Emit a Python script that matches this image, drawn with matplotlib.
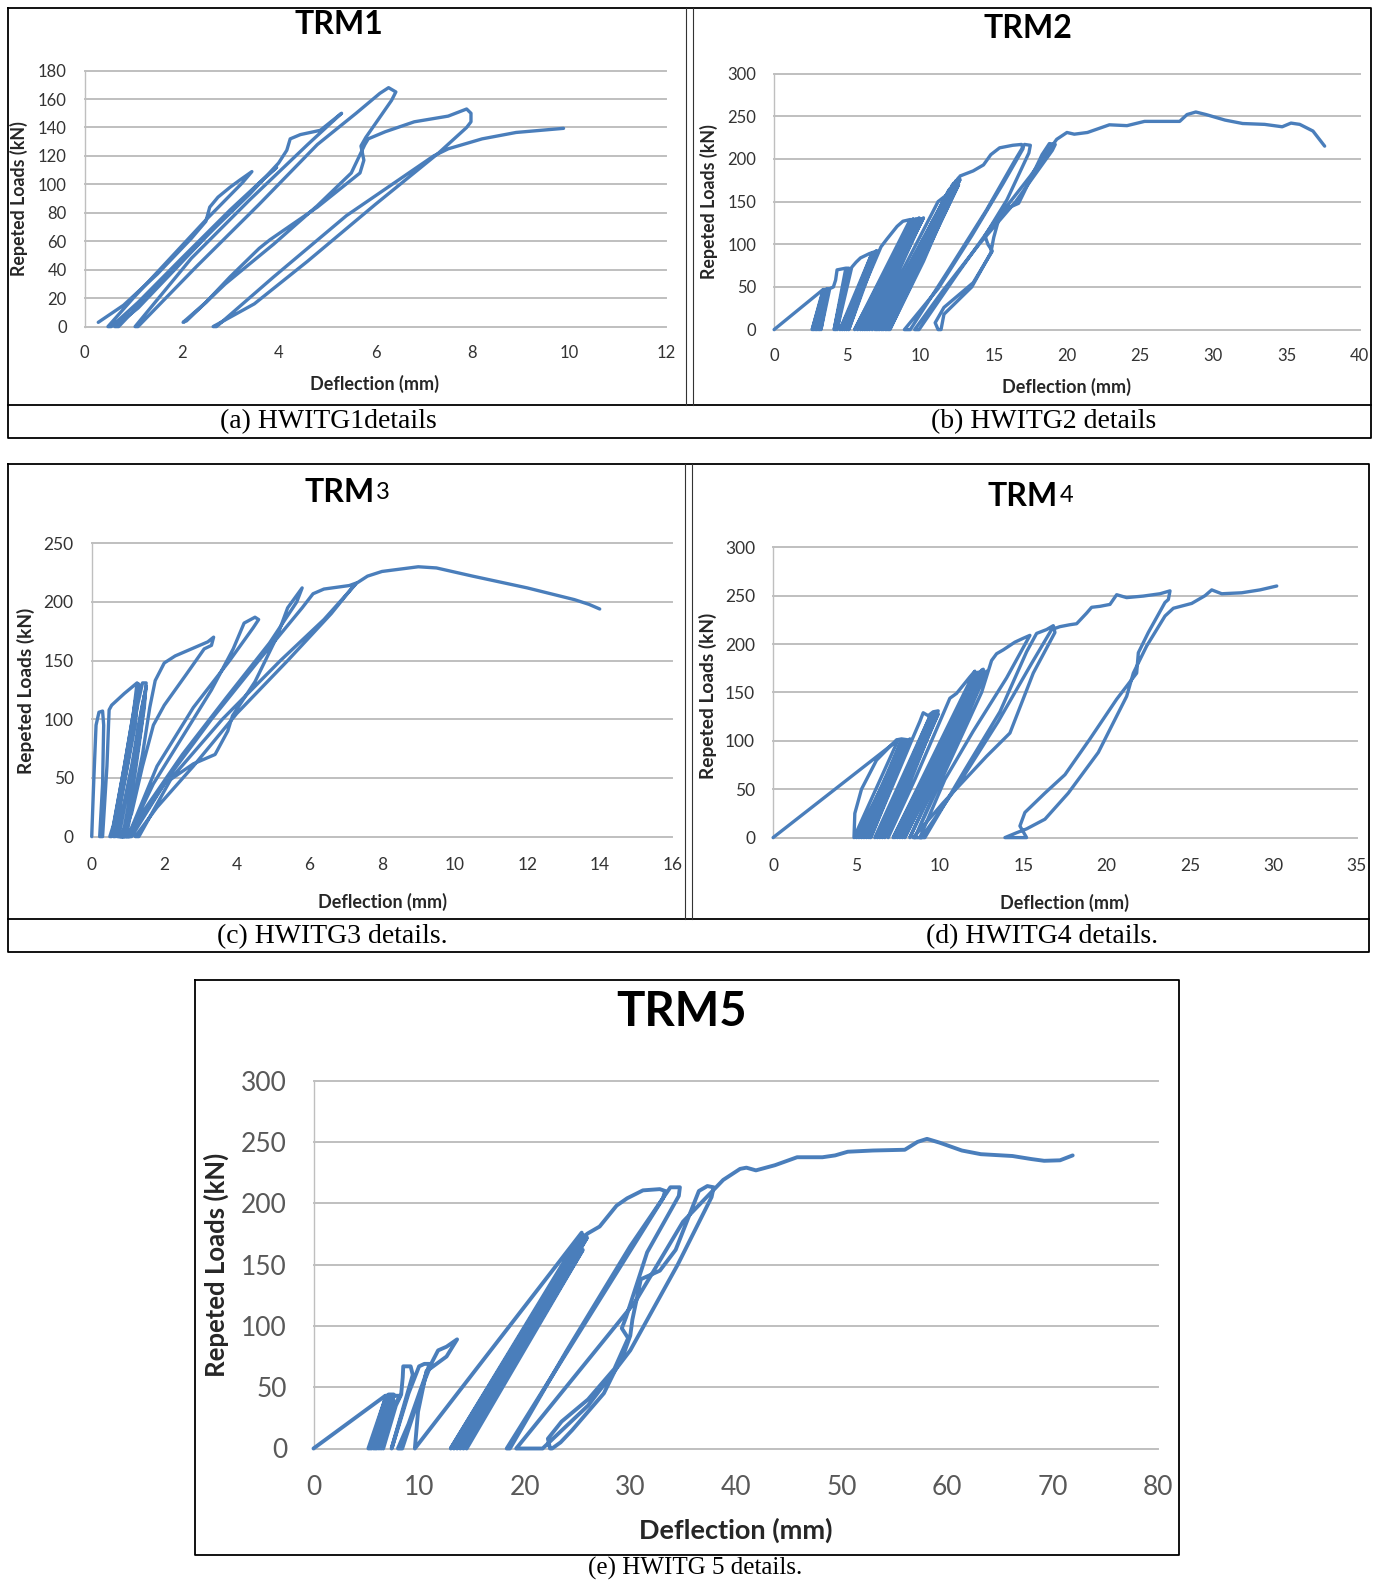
import numpy as np
import matplotlib
matplotlib.use('Agg')
import matplotlib.pyplot as plt
from matplotlib.lines import Line2D

# ---- data (deflection mm, load kN) ----
trm1_curve = [
    (0.28, 3), (0.8, 15), (1.5, 37), (2.2, 62), (2.5, 74), (2.58, 84), (2.75, 91), (3.0, 98),
    (3.2, 103), (3.45, 109), (3.25, 101), (2.5, 75), (1.6, 42), (1.0, 20), (0.48, 0),
    (0.55, 0), (1.1, 17), (2.0, 48), (3.0, 82), (3.6, 101), (3.96, 112),
    (3.7, 104), (2.8, 74), (1.8, 38), (1.1, 13), (0.62, 0),
    (0.7, 0), (1.4, 25), (2.4, 60), (3.4, 93), (4.0, 115), (4.17, 124), (4.24, 132), (4.45, 135),
    (4.86, 138), (5.3, 150), (4.6, 128), (3.4, 89), (2.2, 48), (1.04, 0),
    (1.1, 0), (2.3, 42), (3.6, 86), (4.8, 128), (5.6, 150), (6.09, 164), (6.27, 168), (6.42, 165),
    (6.33, 159), (5.8, 133), (5.7, 127), (5.76, 117), (5.68, 108),
    (4.8, 84), (3.82, 61), (3.6, 55), (3.0, 35), (2.5, 17), (2.03, 3),
    (2.1, 4), (2.9, 30), (3.9, 58), (4.8, 85), (5.5, 108), (5.78, 128), (5.85, 132), (6.2, 137),
    (6.8, 144), (7.5, 148), (7.88, 153), (7.97, 150), (7.97, 144), (7.88, 140),
    (7.3, 122), (6.0, 86), (4.6, 46), (3.5, 16), (2.65, 0),
    (2.72, 0), (3.9, 35), (5.4, 78), (7.2, 120), (7.5, 125), (8.2, 132), (8.9, 136.5), (9.88, 139.4),
]
trm1_xticks = [0, 2, 4, 6, 8, 10, 12]
trm1_yticks = [0, 20, 40, 60, 80, 100, 120, 140, 160, 180]

trm2_curve = [
    (0, 0), (3.35, 47),
    (2.6, 0), (3.4, 47), (2.7, 0), (3.45, 47), (2.8, 0), (3.5, 47), (2.9, 0), (3.55, 47),
    (3.0, 0), (3.6, 48), (3.1, 0), (3.7, 48), (3.2, 0), (3.8, 48),
    (4.05, 50), (4.2, 58), (4.3, 70), (4.6, 71), (4.9, 72),
    (4.1, 0), (5.0, 72), (4.2, 0), (5.1, 72), (4.3, 0), (5.3, 73), (5.6, 79), (5.9, 84), (6.5, 89), (7.0, 92),
    (4.5, 0), (6.7, 90), (4.65, 0), (6.8, 90), (4.8, 0), (6.95, 92), (4.95, 0), (7.05, 92), (5.1, 0),
    (6.0, 45), (7.3, 97), (7.7, 106), (8.4, 121), (8.8, 127), (9.3, 129),
    (5.5, 0), (9.5, 130), (5.7, 0), (9.7, 130), (5.9, 0), (9.9, 131), (6.05, 0), (10.0, 130),
    (6.2, 0), (10.2, 131), (6.35, 0), (10.1, 128), (6.5, 0), (10.0, 125), (6.7, 0),
    (8.8, 70), (11.2, 150), (11.8, 158), (6.9, 0), (11.9, 162), (7.0, 0), (12.0, 165), (7.1, 0),
    (12.2, 170), (7.2, 0), (12.3, 172), (7.35, 0), (12.45, 175), (7.45, 0), (12.6, 178),
    (7.6, 0), (12.7, 176), (7.7, 0), (12.5, 168), (7.8, 0), (12.6, 170), (7.9, 0),
    (10.2, 80), (12.7, 180), (13.6, 186), (14.3, 193), (14.8, 205), (15.4, 213), (16.3, 216),
    (16.9, 217), (17.0, 212), (15.6, 170), (13.5, 110), (11.2, 48), (8.9, 0),
    (9.3, 0), (12.0, 72), (14.5, 140), (16.5, 200), (17.1, 217), (17.5, 216), (17.4, 207),
    (15.9, 152), (14.4, 110), (14.6, 100), (14.9, 92), (13.6, 55), (11.6, 26), (11.0, 8), (11.2, 0),
    (11.4, 0), (11.6, 18), (13.5, 50), (14.8, 90), (15.0, 108), (15.4, 133), (15.9, 142), (16.7, 148),
    (17.1, 162), (18.3, 205), (18.8, 218), (19.2, 217), (19.0, 210),
    (16.5, 150), (14.0, 100), (11.5, 45), (9.6, 0),
    (9.9, 0), (12.5, 65), (15.0, 125), (17.5, 180), (19.3, 223), (20.0, 231), (20.5, 229), (21.4, 231),
    (22.9, 240), (24.1, 239), (25.3, 244), (27.7, 244), (28.2, 252), (28.8, 255), (29.5, 252),
    (30.8, 245.5), (32.0, 241.5), (33.5, 240.5), (34.7, 237.7), (35.3, 242), (35.9, 240.5),
    (36.8, 232.7), (37.6, 215),
]
trm2_xticks = [0, 5, 10, 15, 20, 25, 30, 35, 40]
trm2_yticks = [0, 50, 100, 150, 200, 250, 300]

trm3_curve = [
    (0, 0), (0.06, 50), (0.12, 95), (0.2, 106), (0.3, 107), (0.33, 95), (0.3, 45), (0.22, 0),
    (0.3, 0), (0.42, 60), (0.48, 108), (0.55, 112), (0.9, 122), (1.25, 131), (1.15, 105), (0.9, 60),
    (0.6, 10), (0.5, 0),
    (0.55, 0), (0.9, 60), (1.2, 115), (1.3, 130), (1.2, 95), (0.8, 30), (0.65, 0),
    (0.6, 0), (0.95, 55), (1.25, 110), (1.4, 131), (1.5, 131), (1.45, 110), (1.2, 55), (0.9, 0),
    (0.7, 0), (1.1, 60), (1.35, 105), (1.5, 128), (1.35, 90), (1.0, 25), (0.85, 0),
    (0.75, 0), (1.15, 65), (1.4, 112), (1.45, 120), (1.3, 80), (0.95, 10), (0.8, 0),
    (0.95, 0), (1.4, 70), (1.6, 110), (1.75, 133), (2.0, 148), (2.3, 154), (2.9, 162), (3.2, 166),
    (3.36, 170), (3.3, 163), (3.1, 160), (2.6, 138), (2.0, 112), (1.7, 95), (1.4, 60), (1.1, 20), (0.85, 0),
    (1.0, 0), (1.7, 45), (2.5, 85), (3.3, 125), (3.9, 160), (4.2, 182), (4.5, 187), (4.6, 185), (4.45, 178),
    (3.8, 150), (2.8, 110), (1.8, 60), (1.0, 0),
    (1.1, 0), (2.0, 45), (2.8, 62), (3.4, 70), (3.75, 90), (3.88, 103), (4.5, 132), (5.1, 170),
    (5.4, 195), (5.8, 212), (5.65, 200), (4.9, 165), (3.7, 118), (2.5, 70), (1.5, 25), (0.95, 0),
    (1.05, 0), (2.1, 50), (3.3, 100), (4.6, 150), (5.8, 195), (6.1, 207), (6.4, 211), (7.1, 214), (7.28, 216),
    (6.6, 190), (5.4, 150), (4.0, 105), (2.8, 60), (1.8, 25), (1.2, 0),
    (1.3, 0), (2.2, 50), (3.6, 100), (5.2, 150), (6.4, 185), (7.3, 216), (7.6, 222), (8.0, 226),
    (8.5, 228), (9.0, 230), (9.5, 229), (10.5, 222), (12.0, 212), (13.3, 202), (13.7, 198), (14.0, 194),
]
trm3_xticks = [0, 2, 4, 6, 8, 10, 12, 14, 16]
trm3_yticks = [0, 50, 100, 150, 200, 250]

trm4_curve = [
    (0, 0), (7.5, 101),
    (4.85, 0), (4.9, 25), (5.3, 50), (6.2, 80), (7.4, 101), (7.7, 102), (8.1, 101),
    (5.0, 0), (7.9, 101), (5.15, 0), (7.7, 100), (5.3, 0), (8.2, 102), (5.45, 0), (7.9, 99),
    (5.6, 0), (8.0, 98), (5.75, 0), (8.2, 100), (5.85, 0), (8.3, 100),
    (8.8, 120), (9.0, 129), (9.3, 126), (9.6, 130), (9.9, 131),
    (6.1, 0), (9.4, 125), (6.25, 0), (9.6, 128), (6.4, 0), (9.8, 130), (6.55, 0), (9.9, 128),
    (6.7, 0), (9.7, 122), (6.9, 0),
    (8.5, 60), (10.6, 144), (11.0, 149), (11.8, 166), (12.1, 172),
    (7.2, 0), (12.2, 170), (7.3, 0), (12.3, 171), (7.45, 0), (12.5, 173), (7.6, 0), (12.6, 174),
    (7.75, 0), (12.7, 170), (7.9, 0), (12.8, 172), (8.2, 0), (12.5, 160), (8.5, 0),
    (10.5, 75), (12.5, 150), (13.1, 183), (13.4, 190), (13.8, 194), (14.5, 202), (15.0, 206), (15.4, 209),
    (14.0, 165), (12.0, 110), (10.3, 60), (8.8, 0),
    (9.1, 0), (11.5, 70), (13.6, 130), (15.2, 192), (15.8, 211), (16.4, 215), (16.8, 219), (16.9, 212),
    (15.6, 170), (14.2, 108), (12.8, 84), (10.2, 36), (8.4, 0),
    (8.9, 0), (11.3, 60), (13.5, 120), (15.5, 180), (16.7, 215), (17.2, 218), (17.8, 220), (18.2, 221),
    (18.8, 232), (19.1, 238), (19.6, 239), (20.2, 241), (20.6, 251), (21.2, 248), (22.2, 249.6),
    (23.2, 252), (23.8, 255), (23.7, 246),
    (23.5, 243), (22.5, 212), (21.9, 191), (21.8, 170), (20.6, 143), (19.0, 102), (17.5, 65),
    (16.3, 46), (15.1, 26), (14.8, 12), (15.2, 0),
    (13.9, 0), (14.6, 5), (15.2, 9), (16.3, 19), (17.7, 46), (19.5, 88), (21.2, 146), (21.6, 170),
    (22.4, 198), (23.5, 229), (24.0, 237), (25.1, 242), (25.9, 250), (26.3, 256), (26.9, 252),
    (28.1, 253), (29.2, 256), (30.2, 260),
]
trm4_xticks = [0, 5, 10, 15, 20, 25, 30, 35]
trm4_yticks = [0, 50, 100, 150, 200, 250, 300]

trm5_curve = [
    (0, 0), (6.8, 43), (8.2, 43),
    (5.2, 0), (6.9, 43), (5.35, 0), (7.0, 43), (5.5, 0), (7.1, 44), (5.7, 0), (7.2, 44),
    (5.85, 0), (7.3, 44), (6.0, 0), (7.4, 44), (6.2, 0), (7.5, 44), (6.4, 0), (7.6, 44), (6.6, 0),
    (7.8, 35), (8.3, 44), (8.45, 58), (8.5, 67), (9.2, 67), (9.4, 60),
    (7.4, 0), (9.0, 45), (10.0, 67), (10.5, 69), (11.0, 69), (9.0, 20), (8.0, 0),
    (8.4, 0), (10.5, 55), (11.2, 70), (11.8, 80), (12.6, 83), (13.6, 89),
    (12.6, 75), (10.7, 63), (9.9, 30), (9.6, 0),
    (25.4, 176),
    (13.0, 0), (25.0, 168), (13.3, 0), (25.6, 174), (13.6, 0), (25.2, 165), (13.9, 0), (25.9, 172),
    (14.2, 0), (25.5, 162), (14.5, 0),
    (25.9, 175), (27.1, 181), (28.7, 198), (29.7, 204), (31.2, 210.5), (32.8, 211.5), (33.3, 210), (33.1, 204),
    (18.3, 0),
    (18.6, 0), (24.0, 80), (30.0, 165), (33.8, 213), (34.7, 213), (34.6, 206),
    (31.6, 160), (29.6, 107), (29.2, 98), (29.8, 90), (28.5, 65), (26.0, 40), (23.5, 22), (22.2, 8), (22.4, 0),
    (22.6, 0), (23.4, 5), (24.5, 15), (27.5, 45), (29.5, 80), (30.0, 92), (30.2, 105), (31.0, 138),
    (32.8, 145), (34.3, 162), (36.5, 210), (37.3, 214), (37.9, 213), (37.7, 205),
    (34.5, 150), (30.0, 80), (26.0, 35), (21.7, 0),
    (19.2, 0), (30.5, 120), (35.0, 185), (38.8, 219), (40.4, 228), (41.0, 229), (41.9, 226.8),
    (43.7, 231), (45.8, 237.5), (48.2, 237.5), (49.4, 239), (50.6, 242), (53.0, 243), (56.0, 243.6),
    (57.2, 250), (58.1, 252.5), (59.3, 249.4), (61.4, 243), (63.2, 240), (66.2, 238.5), (68.0, 236),
    (69.2, 234.6), (70.7, 235), (71.9, 239),
]
trm5_xticks = [0, 10, 20, 30, 40, 50, 60, 70, 80]
trm5_yticks = [0, 50, 100, 150, 200, 250, 300]

captions = ['(a) HWITG1details', '(b) HWITG2 details', '(c) HWITG3 details.',
            '(d) HWITG4 details.', '(e) HWITG 5 details.']

# ---- drawing ----
W, H = 1383, 1581
plt.rcParams['font.family'] = ['Lato', 'DejaVu Sans']
LINE = '#4A7EBB'
GRID = '#BFBFBF'
SERIF = ['Liberation Serif', 'DejaVu Serif']

fig = plt.figure(figsize=(W / 100, H / 100), dpi=100)


def px_axes(x0, x1, ytop, ybot):
    return fig.add_axes([x0 / W, 1 - ybot / H, (x1 - x0) / W, (ybot - ytop) / H])


def fig_line(xs, ys, lw=1.3, color='black'):
    fig.add_artist(Line2D([x / W for x in xs], [1 - y / H for y in ys],
                          color=color, lw=lw))


def fig_text(x, y, s, ha='center', va='center', **kw):
    fig.text(x / W, 1 - y / H, s, ha=ha, va=va, **kw)


def draw_panel(ax, pts, xticks, yticks, tsize, tcolor, padx, pady, lw):
    x, y = np.array(pts, dtype=float).T
    ax.set_xlim(xticks[0], xticks[-1])
    ax.set_ylim(yticks[0], yticks[-1])
    for t in yticks:
        ax.axhline(t, color=GRID, lw=1.4, zorder=1, clip_on=False)
    ax.plot(x, y, color=LINE, lw=lw, solid_joinstyle='round',
            solid_capstyle='round', zorder=3, clip_on=False)
    for s in ['top', 'right', 'bottom']:
        ax.spines[s].set_visible(False)
    ax.spines['left'].set_color(GRID)
    ax.spines['left'].set_linewidth(1.0)
    ax.set_xticks(xticks)
    ax.set_yticks(yticks)
    ax.tick_params(axis='x', length=0, pad=padx, labelsize=tsize, labelcolor=tcolor)
    ax.tick_params(axis='y', length=0, pad=pady, labelsize=tsize, labelcolor=tcolor)
    ax.patch.set_alpha(0)


# panel frames
fig_line([8, 1371, 1371, 8, 8], [8, 8, 438, 438, 8])
fig_line([8, 1371], [405, 405])
fig_line([686, 686], [8, 405], lw=0.8, color='#333333')
fig_line([693, 693], [8, 405], lw=0.8, color='#333333')
fig_line([8, 1369, 1369, 8, 8], [464, 464, 952, 952, 464])
fig_line([8, 1369], [919, 919])
fig_line([685, 685], [464, 919], lw=0.8, color='#333333')
fig_line([692, 692], [464, 919], lw=0.8, color='#333333')
fig_line([195, 1179, 1179, 195, 195], [980, 980, 1555, 1555, 980])

# TRM1
ax = px_axes(84.7, 666.3, 70.6, 326.6)
draw_panel(ax, trm1_curve, trm1_xticks, trm1_yticks, 12, '#333333', 13, 13, 2.4)
fig_text(338.7, 25, 'TRM1', fontsize=23, fontweight='bold')
fig_text(375, 384, 'Deflection (mm)', fontsize=13, fontweight='bold', color='#262626')
fig_text(18.5, 199, 'Repeted Loads (kN)', fontsize=12.8, fontweight='bold', color='#262626', rotation=90)

# TRM2
ax = px_axes(774.1, 1359.8, 73.6, 329.6)
draw_panel(ax, trm2_curve, trm2_xticks, trm2_yticks, 12, '#333333', 13, 13, 2.4)
fig_text(1028, 28, 'TRM2', fontsize=23, fontweight='bold')
fig_text(1066.5, 387, 'Deflection (mm)', fontsize=13, fontweight='bold', color='#262626')
fig_text(708.6, 202, 'Repeted Loads (kN)', fontsize=12.8, fontweight='bold', color='#262626', rotation=90)

fig_text(328.6, 421.3, captions[0], fontsize=20, family=SERIF)
fig_text(1044, 421.3, captions[1], fontsize=20, family=SERIF)

# TRM3
ax = px_axes(91.7, 672.3, 543.3, 836.6)
draw_panel(ax, trm3_curve, trm3_xticks, trm3_yticks, 12.5, '#333333', 15, 13, 2.4)
fig_text(375, 492, 'TRM', ha='right', fontsize=23, fontweight='bold')
fig_text(376, 492, '3', ha='left', fontsize=17)
fig_text(382, 902, 'Deflection (mm)', fontsize=13, fontweight='bold', color='#262626')
fig_text(26.2, 690.5, 'Repeted Loads (kN)', fontsize=13.8, fontweight='bold', color='#262626', rotation=90)

# TRM4
ax = px_axes(773.1, 1356.8, 547.3, 837.6)
draw_panel(ax, trm4_curve, trm4_xticks, trm4_yticks, 12.5, '#333333', 15, 13, 2.4)
fig_text(1058, 496, 'TRM', ha='right', fontsize=23, fontweight='bold')
fig_text(1060, 496, '4', ha='left', fontsize=17)
fig_text(1064.4, 903, 'Deflection (mm)', fontsize=13, fontweight='bold', color='#262626')
fig_text(707.6, 695.5, 'Repeted Loads (kN)', fontsize=13.8, fontweight='bold', color='#262626', rotation=90)

fig_text(332.6, 936.4, captions[2], fontsize=20, family=SERIF)
fig_text(1042, 936.4, captions[3], fontsize=20, family=SERIF)

# TRM5
ax = px_axes(313.5, 1158.2, 1080.6, 1448.5)
draw_panel(ax, trm5_curve, trm5_xticks, trm5_yticks, 19, '#595959', 19, 19, 2.8)
fig_text(681.4, 1012, 'TRM5', fontsize=34, fontweight='bold')
fig_text(735.8, 1530, 'Deflection (mm)', fontsize=19.5, fontweight='bold', color='#262626')
fig_text(216.7, 1265, 'Repeted Loads (kN)', fontsize=18.5, fontweight='bold', color='#262626', rotation=90)
fig_text(695.5, 1568.5, captions[4], fontsize=18, family=SERIF)

fig.savefig('out.png', dpi=100)
